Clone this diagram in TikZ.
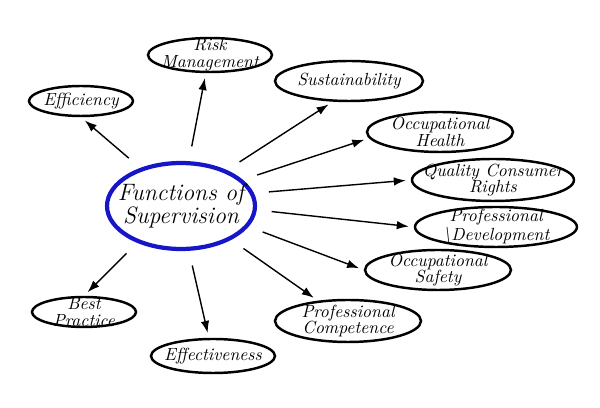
\documentclass[tikz,border=0pt]{standalone}
\usepackage{tikz}
\usetikzlibrary{arrows.meta}
\usetikzlibrary{shapes.geometric}

\definecolor{hubblue}{RGB}{22,22,200}

\begin{document}
\begin{tikzpicture}[x=0.02cm,y=-0.02cm,
        topic/.style={ellipse,draw=black,line width=1.4pt,inner sep=0pt},
        txt/.style={align=center,inner sep=0pt,font=\itshape\fontsize{10}{9.5}\selectfont},
        big/.style={align=center,inner sep=0pt,font=\itshape\fontsize{13.5}{12}\selectfont},
        hub/.style={ellipse,draw=hubblue,line width=2.4pt,inner sep=0pt}]
        \useasboundingbox (0,0) rectangle (600,408);
        \node [hub,minimum width=2.96cm,minimum height=1.72cm] (c) at (181,206)
            [label={[big]center:{Functions of\\Supervision}}] {};
        \node [topic,minimum width=2.48cm,minimum height=0.68cm] (risk) at (210,55)
            [label={[txt]center:{Risk\\Management}}] {};
        \node [topic,minimum width=2.08cm,minimum height=0.6cm] (eff) at (81,101)
            [label={[txt]center:{Efficiency}}] {};
        \node [topic,minimum width=2.96cm,minimum height=0.8cm] (sus) at (349,81)
            [label={[txt]center:{Sustainability}}] {};
        \node [topic,minimum width=2.92cm,minimum height=0.8cm] (ohealth) at (440,132)
            [label={[txt]center:{Occupational\\Health}}] {};
        \node [topic,minimum width=3.24cm,minimum height=0.84cm] (qcr) at (493,180)
            [label={[txt]center:{Quality Consumer\\Rights}}] {};
        \node [topic,minimum width=3.24cm,minimum height=0.8cm] (pdev) at (496,227)
            [label={[txt]center:{Professional\\\textbackslash Development}}] {};
        \node [topic,minimum width=2.92cm,minimum height=0.8cm] (osafe) at (438,270)
            [label={[txt]center:{Occupational\\Safety}}] {};
        \node [topic,minimum width=2.92cm,minimum height=0.84cm] (pcomp) at (348,321)
            [label={[txt]center:{Professional\\Competence}}] {};
        \node [topic,minimum width=2.48cm,minimum height=0.68cm] (effect) at (213,356)
            [label={[txt]center:{Effectiveness}}] {};
        \node [topic,minimum width=2.08cm,minimum height=0.6cm] (best) at (84,312)
            [label={[txt]center:{Best\\Practice}}] {};
        \path[-{Latex[length=2.4mm,width=1.7mm]},line width=0.8pt,shorten <=0.3cm,shorten >=0.1cm]
            (c.137) edge (eff.south)
            (c.80) edge (risk.257)
            (c.38) edge (sus.232)
            (c.23) edge (ohealth.185)
            (c.10) edge (qcr.west)
            (c.357) edge (pdev.west)
            (c.343) edge (osafe.west)
            (c.326) edge (pcomp.146)
            (c.280) edge (effect.103)
            (c.220) edge (best.north);
    \end{tikzpicture}
\end{document}
